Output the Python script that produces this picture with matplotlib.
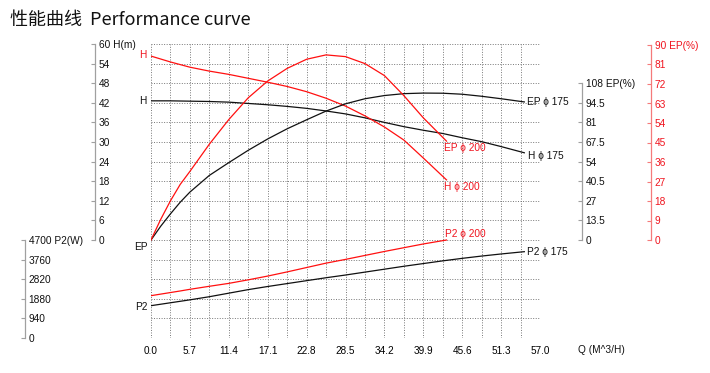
import matplotlib
matplotlib.use('Agg')
import matplotlib.pyplot as plt

plt.rcParams['font.family'] = ['Liberation Sans', 'DejaVu Sans']

RED = '#ff1010'
RED_TXT = '#f0141e'
GREY = '#a0a0a0'

# flow (m3/h) and curves
q175 = [0.0, 1.425, 2.85, 4.275, 5.7, 8.55, 11.4, 14.25, 17.1, 19.95, 22.8, 25.65, 28.5,
        31.35, 34.2, 37.05, 39.9, 42.75, 45.6, 48.45, 51.3, 54.7]
h175 = [42.6, 42.6, 42.6, 42.55, 42.5, 42.4, 42.2, 41.8, 41.4, 40.9, 40.3, 39.5, 38.6,
        37.4, 36.0, 34.7, 33.6, 32.6, 31.3, 30.1, 28.6, 26.7]
ep175 = [0, 9.5, 18, 26, 33, 44.5, 53.3, 61.8, 69.6, 76.6, 82.8, 88.8, 93.8,
         97.3, 99.5, 100.8, 101.2, 101.1, 100.4, 99, 97.3, 95.1]
p2_175 = [1550, 1620, 1690, 1760, 1830, 1980, 2150, 2320, 2470, 2610, 2750, 2890, 3020,
          3160, 3300, 3440, 3570, 3700, 3820, 3930, 4030, 4140]

q200 = [0.0, 1.425, 2.85, 4.275, 5.7, 8.55, 11.4, 14.25, 17.1, 19.95, 22.8, 25.65, 28.5,
        31.35, 34.2, 37.05, 39.9, 43.3]
h200 = [56.3, 55.4, 54.5, 53.7, 52.9, 51.7, 50.7, 49.5, 48.3, 47.0, 45.4, 43.4, 41.0,
        38.0, 34.6, 30.6, 25.1, 18.4]
ep200 = [0, 9.5, 18, 25.5, 31.5, 44, 55.3, 65.3, 73, 78.8, 83, 85, 84.2,
         81, 75.5, 66.3, 56.1, 45.4]
p2_200 = [2030, 2105, 2180, 2255, 2335, 2480, 2620, 2790, 2970, 3170, 3380, 3590, 3770,
          3960, 4150, 4330, 4510, 4700]

q_ticks = [0.0, 5.7, 11.4, 17.1, 22.8, 28.5, 34.2, 39.9, 45.6, 51.3, 57.0]
h_ticks = [0, 6, 12, 18, 24, 30, 36, 42, 48, 54, 60]
p2_ticks = [0, 940, 1880, 2820, 3760, 4700]
ep175_ticks = [0, 13.5, 27, 40.5, 54, 67.5, 81, 94.5, 108]
ep200_ticks = [0, 9, 18, 27, 36, 45, 54, 63, 72, 81, 90]

W, H = 710, 373
fig = plt.figure(figsize=(W / 100, H / 100), dpi=100)


def px_box(x0, y0, x1, y1):
    return [x0 / W, (H - y1) / H, (x1 - x0) / W, (y1 - y0) / H]


# main grid area
ax = fig.add_axes(px_box(151, 44, 540, 338))
ax.set_xlim(0, 57)
ax.set_ylim(-30, 60)
ax.set_xticks(q_ticks)
ax.set_xticklabels(['%.1f' % v for v in q_ticks])
ax.set_xticks([v + 2.85 for v in q_ticks[:-1]], minor=True)
ax.set_yticks(range(-30, 61, 6))
ax.tick_params(axis='both', which='both', length=0, labelleft=False, labelsize=7.2, pad=5.5)
ax.grid(True, which='both', color='#777777', linestyle=(0, (1, 1.6)), linewidth=0.7)
for s in ax.spines.values():
    s.set_visible(False)

ax_ep175 = ax.twinx()
ax_ep175.set_ylim(-67.5, 135)
ax_ep200 = ax.twinx()
ax_ep200.set_ylim(-45, 90)
ax_p2 = ax.twinx()
ax_p2.set_ylim(0, 14100)
for a in (ax_ep175, ax_ep200, ax_p2):
    a.set_axis_off()

lw = 0.9
ax.plot(q175, h175, color='#111111', lw=lw)
ax_ep175.plot(q175, ep175, color='#111111', lw=lw)
ax_p2.plot(q175, p2_175, color='#111111', lw=lw)
ax.plot(q200, h200, color=RED, lw=lw)
ax_ep200.plot(q200, ep200, color=RED, lw=lw)
ax_p2.plot(q200, p2_200, color=RED, lw=lw)

fs = 7.3
phi = '\u03d5'


def tag(a, x, y, s, dx, dy, color, ha='left'):
    a.annotate(s, (x, y), xytext=(dx * 0.72, dy * 0.72), textcoords='offset points',
               ha=ha, va='center', fontsize=fs, color=color)


tag(ax_ep175, q175[-1], ep175[-1], 'EP %s 175' % phi, 2.5, 0, '#111111')
tag(ax, q175[-1], h175[-1], 'H %s 175' % phi, 3.5, -3, '#111111')
tag(ax_p2, q175[-1], p2_175[-1], 'P2 %s 175' % phi, 2.5, 0, '#111111')
tag(ax_ep200, q200[-1], ep200[-1], 'EP %s 200' % phi, -3, -7, RED_TXT)
tag(ax, q200[-1], h200[-1], 'H %s 200' % phi, -3, -7.5, RED_TXT)
tag(ax_p2, q200[-1], p2_200[-1], 'P2 %s 200' % phi, -2, 6, RED_TXT)

tag(ax, q200[0], h200[0], 'H', -4, 1, RED_TXT, ha='right')
tag(ax, q175[0], h175[0], 'H', -4, 0, '#111111', ha='right')
tag(ax_ep175, q175[0], ep175[0], 'EP', -3, -7, '#111111', ha='right')
tag(ax_p2, q175[0], p2_175[0], 'P2', -4, -1.5, '#111111', ha='right')


def scale_axis(x, y_top, y_bot, vmax, ticks, labels, spine_color, text_color):
    a = fig.add_axes(px_box(x, y_top, x + 0.5, y_bot))
    a.set_ylim(0, vmax)
    a.set_xticks([])
    a.patch.set_visible(False)
    for k in ('top', 'bottom', 'right'):
        a.spines[k].set_visible(False)
    a.spines['left'].set_color(spine_color)
    a.spines['left'].set_linewidth(0.9)
    a.set_yticks(ticks)
    a.set_yticklabels(labels)
    a.tick_params(axis='y', direction='out', length=3, width=0.8, color=spine_color,
                  left=True, right=False, labelleft=False, labelright=True,
                  pad=-0.8, labelsize=fs, labelcolor=text_color)
    return a


def fmt(v):
    return ('%g' % v)


scale_axis(95, 44, 240, 60, h_ticks,
           [fmt(v) for v in h_ticks[:-1]] + ['60 H(m)'], GREY, '#111111')
scale_axis(25, 240, 338, 4700, p2_ticks,
           [fmt(v) for v in p2_ticks[:-1]] + ['4700 P2(W)'], GREY, '#111111')
scale_axis(582, 83, 240, 108, ep175_ticks,
           [fmt(v) for v in ep175_ticks[:-1]] + ['108 EP(%)'], GREY, '#111111')
scale_axis(651, 45, 240, 90, ep200_ticks,
           [fmt(v) for v in ep200_ticks[:-1]] + ['90 EP(%)'], '#f57a7a', RED_TXT)

fig.text(578 / W, 1 - 350 / H, 'Q (M^3/H)', fontsize=fs, va='center', ha='left', color='#111111')
fig.text(10 / W, 1 - 19.5 / H, '性能曲线  Performance curve', fontsize=13, va='center', ha='left',
         family=['Noto Sans CJK SC', 'DejaVu Sans'], color='#111111')

fig.savefig('out.png', dpi=100)
